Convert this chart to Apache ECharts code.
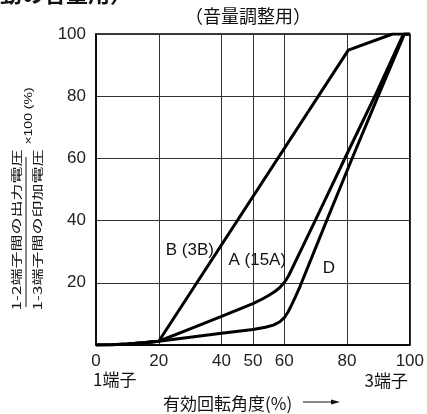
<!DOCTYPE html>
<html>
<head>
<meta charset="utf-8">
<script src="https://cdn.jsdelivr.net/npm/echarts@6/dist/echarts.min.js"></script>
<style>
  html, body { margin: 0; padding: 0; background: #fff; }
  #chart { width: 427px; height: 414px; }
</style>
</head>
<body>
<div id="chart"></div>
<script>
// tick values
const xTicks = [0, 20, 40, 50, 60, 80, 100];
const yTicks = [0, 20, 40, 60, 80, 100];

// curves: [rotation %, output %]
const curveB = [[0, 0], [5, 0.1], [10, 0.35], [15, 0.7], [20, 1.2], [80.4, 94.8], [94.5, 100], [100, 100]];
const curveA = [[0, 0], [5, 0.1], [10, 0.35], [15, 0.7], [20, 1.2], [30, 5.2], [40, 9.2], [50, 13.3],
  [53, 14.8], [55, 15.9], [57, 17.2], [58.5, 18.4], [59.5, 19.5], [60.5, 20.8], [61.5, 22.5],
  [70, 40.3], [80, 61.5], [89, 80.3], [98, 100], [100, 100]];
const curveD = [[0, 0], [5, 0.1], [10, 0.35], [15, 0.7], [20, 1.2], [30, 2.5], [40, 3.8], [50, 5.0],
  [54, 5.7], [56.5, 6.4], [58.5, 7.4], [60, 8.8], [61.2, 10.6], [62.3, 12.8], [63.5, 15.4], [65, 18.8],
  [73.5, 40], [81.4, 59.5], [89.9, 80], [98.3, 100], [100, 100]];

// curve names and where their labels sit (data coords)
const curveNames = ['B (3B)', 'A (15A)', 'D'];
const labelPos = [[29.9, 30.5], [51.4, 27.3], [74.2, 24.6]];

const latin = '"Liberation Sans", Arial, "Noto Sans CJK JP", sans-serif';
const cjk = '"Noto Sans CJK JP", "Liberation Sans", sans-serif';

const chart = echarts.init(document.getElementById('chart'));

function lineSeries(name, data, i) {
  return {
    name: name,
    type: 'line',
    data: data,
    symbol: 'none',
    lineStyle: { color: '#000', width: 3 },
    z: 5,
    markPoint: {
      symbol: 'circle',
      symbolSize: 0,
      label: {
        show: true,
        formatter: name,
        color: '#111',
        fontSize: 17,
        fontFamily: latin,
        position: 'inside'
      },
      data: [{ coord: labelPos[i] }]
    }
  };
}

const rot = Math.PI / 2;

chart.setOption({
  animation: false,
  grid: {
    left: 96, right: 17, top: 34, bottom: 69,
    show: true, borderColor: '#000', borderWidth: 1.5
  },
  xAxis: {
    type: 'value',
    min: 0, max: 100,
    axisLine: { show: true, lineStyle: { color: '#000', width: 1.5 } },
    axisTick: { show: false, customValues: xTicks },
    axisLabel: {
      customValues: xTicks,
      color: '#222', fontSize: 17, fontFamily: latin, margin: 8
    },
    splitLine: { show: true, lineStyle: { color: '#333', width: 1 } }
  },
  yAxis: {
    type: 'value',
    min: 0, max: 100, interval: 20,
    axisLine: { show: true, lineStyle: { color: '#000', width: 1.5 } },
    axisTick: { show: false },
    axisLabel: {
      showMinLabel: false,
      color: '#222', fontSize: 17, fontFamily: latin, margin: 10
    },
    splitLine: { show: true, lineStyle: { color: '#333', width: 1 } }
  },
  series: [
    lineSeries(curveNames[0], curveB, 0),
    lineSeries(curveNames[1], curveA, 1),
    lineSeries(curveNames[2], curveD, 2)
  ],
  graphic: [
    // clipped heading at the very top
    { type: 'text', left: -22, top: -17,
      style: { text: '連動の音量用）', font: 'bold 22px ' + cjk, fill: '#111' } },
    { type: 'text', x: 248, y: 16,
      style: { text: '（音量調整用）', font: '18px ' + cjk, fill: '#111', align: 'center', verticalAlign: 'middle' } },
    // y-axis name as a fraction
    { type: 'text', x: 16.5, y: 230, rotation: rot, scaleY: 0.7,
      style: { text: '1-2端子間の出力電圧', font: '17px ' + cjk, fill: '#111', align: 'center', verticalAlign: 'middle' } },
    { type: 'line', shape: { x1: 26, y1: 157, x2: 26, y2: 307 }, style: { stroke: '#111', lineWidth: 1 } },
    { type: 'text', x: 37.5, y: 230, rotation: rot, scaleY: 0.7,
      style: { text: '1-3端子間の印加電圧', font: '17px ' + cjk, fill: '#111', align: 'center', verticalAlign: 'middle' } },
    { type: 'text', x: 29, y: 116, rotation: rot, scaleY: 0.75,
      style: { text: '×100 (%)', font: '14px ' + latin, fill: '#111', align: 'center', verticalAlign: 'middle' } },
    // terminal labels
    { type: 'text', x: 93, y: 380,
      style: { text: '1端子', font: '17px ' + cjk, fill: '#111', align: 'left', verticalAlign: 'middle' } },
    { type: 'text', x: 408, y: 381,
      style: { text: '3端子', font: '17px ' + cjk, fill: '#111', align: 'right', verticalAlign: 'middle' } },
    // x-axis name with arrow
    { type: 'text', x: 163, y: 404,
      style: { text: '有効回転角度(%)', font: '17px ' + cjk, fill: '#111', align: 'left', verticalAlign: 'middle' } },
    { type: 'line', shape: { x1: 303, y1: 402, x2: 334, y2: 402 }, style: { stroke: '#111', lineWidth: 1 } },
    { type: 'polygon', shape: { points: [[340, 402], [331, 399.5], [331, 404.5]] }, style: { fill: '#111' } }
  ]
});
</script>
</body>
</html>
